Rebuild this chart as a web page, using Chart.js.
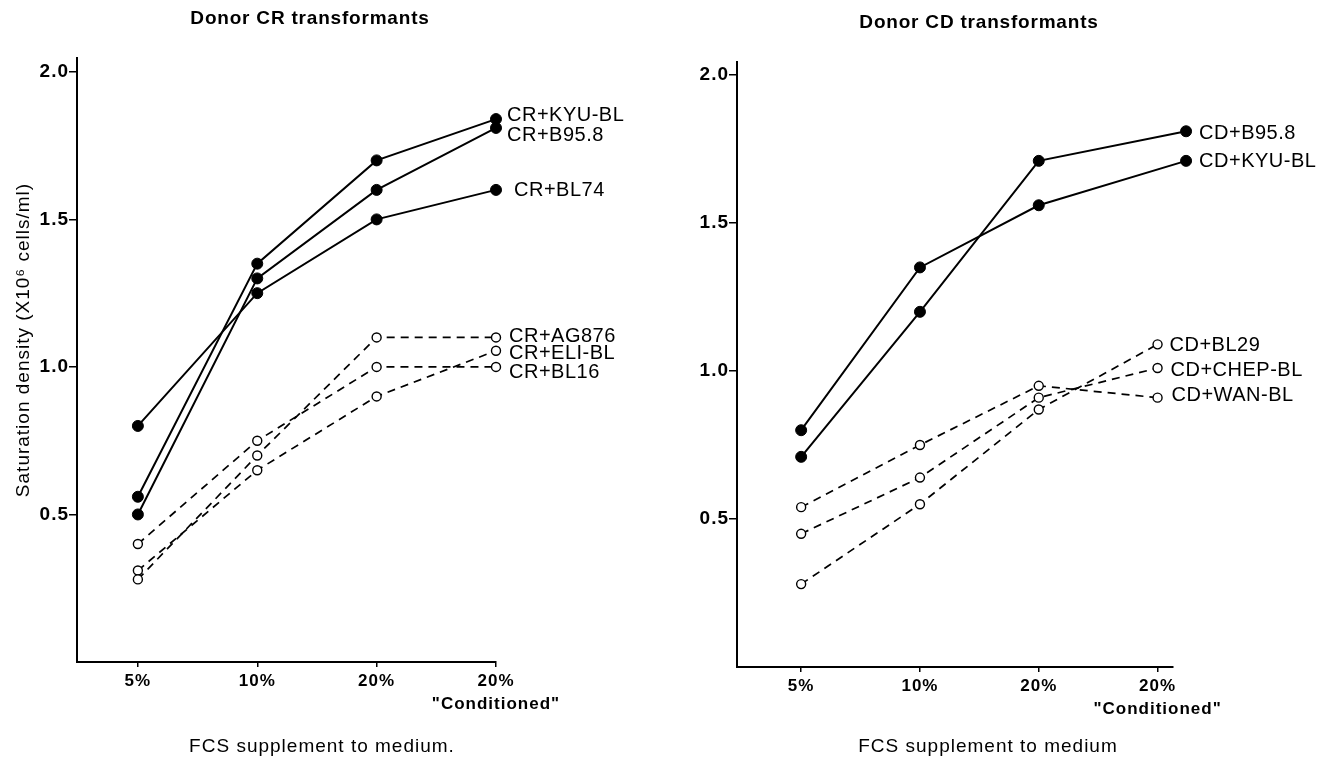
<!DOCTYPE html>
<html>
<head>
<meta charset="utf-8">
<script src="https://cdn.jsdelivr.net/npm/chart.js@4.4.1/dist/chart.umd.min.js"></script>
<style>
  body { margin: 0; background: #fff; width: 1325px; height: 761px; overflow: hidden; position: relative; }
  canvas { position: absolute; top: 0; }
  #cr { left: 0; }
  #cd { left: 662px; }
</style>
</head>
<body>
<canvas id="cr" width="662" height="761"></canvas>
<canvas id="cd" width="663" height="761"></canvas>
<script>
// x categories (plotted at positions 0..3 on a linear axis)
const xLabels = ['5%', '10%', '20%', ['20%', '"Conditioned"']];
const xPos = [0, 1, 2, 3];
const xPosCdFilled = [0, 1, 2, 3.24]; // filled CD points sit a bit right of the last tick
const yTicks = [0.5, 1.0, 1.5, 2.0];

// Donor CR transformants
const crNames = ['CR+KYU-BL', 'CR+B95.8', 'CR+BL74', 'CR+AG876', 'CR+ELI-BL', 'CR+BL16'];
const crKyu   = [0.56, 1.35, 1.70, 1.84];
const crB958  = [0.50, 1.30, 1.60, 1.81];
const crBl74  = [0.80, 1.25, 1.50, 1.60];
const crAg876 = [0.28, 0.70, 1.10, 1.10];
const crEli   = [0.31, 0.65, 0.90, 1.055];
const crBl16  = [0.40, 0.75, 1.00, 1.00];

// Donor CD transformants
const cdNames = ['CD+B95.8', 'CD+KYU-BL', 'CD+BL29', 'CD+CHEP-BL', 'CD+WAN-BL'];
const cdB958 = [0.71, 1.20, 1.71, 1.81];
const cdKyu  = [0.80, 1.35, 1.56, 1.71];
const cdBl29 = [0.28, 0.55, 0.87, 1.09];
const cdChep = [0.45, 0.64, 0.91, 1.01];
const cdWan  = [0.54, 0.75, 0.95, 0.91];

const FONT = "'Liberation Sans', Arial, Helvetica, sans-serif";

// label offsets from the last point, in px (style only)
const crLabelDx = [11, 11, 18, 13, 13, 13];
const crLabelDy = [-4, 8, 1, -1, 3, 6];
const cdLabelDx = [13, 13, 12, 13, 14];
const cdLabelDy = [2, 1, 1, 2, -2];

function toPoints(xs, ys) {
  return ys.map((v, i) => ({ x: xs[i], y: v }));
}

function makeDataset(name, xs, ys, filled) {
  return {
    label: name,
    data: toPoints(xs, ys),
    borderColor: '#000',
    borderWidth: filled ? 2 : 1.7,
    borderDash: filled ? [] : [8, 6],
    pointRadius: filled ? 5.5 : 4.5,
    pointBackgroundColor: filled ? '#000' : '#fff',
    pointBorderColor: '#000',
    pointBorderWidth: filled ? 1 : 1.4,
    fill: false,
    tension: 0,
    clip: false
  };
}

function textPlugin(t) {
  return {
    id: 'texts',
    beforeDraw(chart) {
      chart.ctx.letterSpacing = '1px';
    },
    afterDatasetsDraw(chart) {
      const ctx = chart.ctx;
      const a = chart.chartArea;
      const wide = { left: -1e5, top: -1e5, right: 1e5, bottom: 1e5 };
      // points lying just past the end of the x axis are skipped by Chart.js; draw them anyway
      chart.data.datasets.forEach((ds, i) => {
        chart.getDatasetMeta(i).data.forEach(p => {
          if (p.x > a.right + 3) p.draw(ctx, wide);
        });
      });
      ctx.save();
      ctx.fillStyle = '#000';
      ctx.font = '20px ' + FONT;
      ctx.letterSpacing = '0.5px';
      ctx.textAlign = 'left';
      ctx.textBaseline = 'middle';
      chart.data.datasets.forEach((ds, i) => {
        const pts = chart.getDatasetMeta(i).data;
        const p = pts[pts.length - 1];
        ctx.fillText(ds.label, p.x + t.dx[i], p.y + t.dy[i]);
      });
      ctx.restore();
    },
    afterDraw(chart) {
      const ctx = chart.ctx;
      ctx.save();
      ctx.fillStyle = '#000';
      ctx.textAlign = 'center';
      ctx.textBaseline = 'middle';
      ctx.font = 'bold 19px ' + FONT;
      ctx.letterSpacing = '0.8px';
      ctx.fillText(t.title, t.titleX, t.titleY);
      ctx.font = '19px ' + FONT;
      ctx.letterSpacing = '1px';
      ctx.fillText(t.xTitle, t.xTitleX, t.xTitleY);
      if (t.yTitle) {
        ctx.translate(t.yTitleX, t.yTitleY);
        ctx.rotate(-Math.PI / 2);
        ctx.font = '19px ' + FONT;
        ctx.fillText(t.yTitle, 0, 0);
      }
      ctx.restore();
    }
  };
}

function makeChart(id, datasets, f, texts) {
  return new Chart(document.getElementById(id), {
    type: 'line',
    data: { datasets: datasets },
    options: {
      responsive: false,
      animation: false,
      events: [],
      layout: { padding: { top: f.padTop, right: f.padRight, left: 0, bottom: 0 } },
      plugins: { legend: { display: false }, title: { display: false }, tooltip: { enabled: false } },
      scales: {
        x: {
          type: 'linear',
          min: f.xMin,
          max: f.xMax,
          afterBuildTicks: a => { a.ticks = xPos.map(v => ({ value: v })); },
          afterFit: a => { a.height = f.xHeight; },
          ticks: {
            callback: v => xLabels[xPos.indexOf(v)],
            color: '#000',
            font: { family: FONT, size: 17, weight: 'bold', lineHeight: 1.4 },
            padding: 2,
            maxRotation: 0,
            autoSkip: false
          },
          grid: { drawOnChartArea: false, drawTicks: true, tickLength: 5, color: '#000', lineWidth: 1.5 },
          border: { color: '#000', width: 2 }
        },
        y: {
          min: 0,
          max: f.yMax,
          afterBuildTicks: a => { a.ticks = yTicks.map(v => ({ value: v })); },
          afterFit: a => { a.width = f.yWidth; },
          ticks: {
            callback: v => v.toFixed(1),
            color: '#000',
            font: { family: FONT, size: 19, weight: 'bold' },
            padding: 0
          },
          grid: { drawOnChartArea: false, drawTicks: true, tickLength: 8, color: '#000', lineWidth: 1.5 },
          border: { color: '#000', width: 2 }
        }
      }
    },
    plugins: [textPlugin(texts)]
  });
}

const crSets = [
  makeDataset(crNames[0], xPos, crKyu, true),
  makeDataset(crNames[1], xPos, crB958, true),
  makeDataset(crNames[2], xPos, crBl74, true),
  makeDataset(crNames[3], xPos, crAg876, false),
  makeDataset(crNames[4], xPos, crEli, false),
  makeDataset(crNames[5], xPos, crBl16, false)
];

const cdSets = [
  makeDataset(cdNames[0], xPosCdFilled, cdB958, true),
  makeDataset(cdNames[1], xPosCdFilled, cdKyu, true),
  makeDataset(cdNames[2], xPos, cdBl29, false),
  makeDataset(cdNames[3], xPos, cdChep, false),
  makeDataset(cdNames[4], xPos, cdWan, false)
];

makeChart('cr', crSets,
  { padTop: 58, padRight: 166, xHeight: 99, yWidth: 77, xMin: -0.51, xMax: 3.0, yMax: 2.047 },
  {
    title: 'Donor CR transformants', titleX: 310, titleY: 19,
    xTitle: 'FCS supplement to medium.', xTitleX: 322, xTitleY: 747,
    yTitle: 'Saturation density (X10\u2076 cells/ml)', yTitleX: 24, yTitleY: 340,
    dx: crLabelDx, dy: crLabelDy
  });

makeChart('cd', cdSets,
  { padTop: 62, padRight: 152, xHeight: 94, yWidth: 75, xMin: -0.54, xMax: 3.13, yMax: 2.044 },
  {
    title: 'Donor CD transformants', titleX: 317, titleY: 23,
    xTitle: 'FCS supplement to medium', xTitleX: 326, xTitleY: 747,
    dx: cdLabelDx, dy: cdLabelDy
  });
</script>
</body>
</html>
